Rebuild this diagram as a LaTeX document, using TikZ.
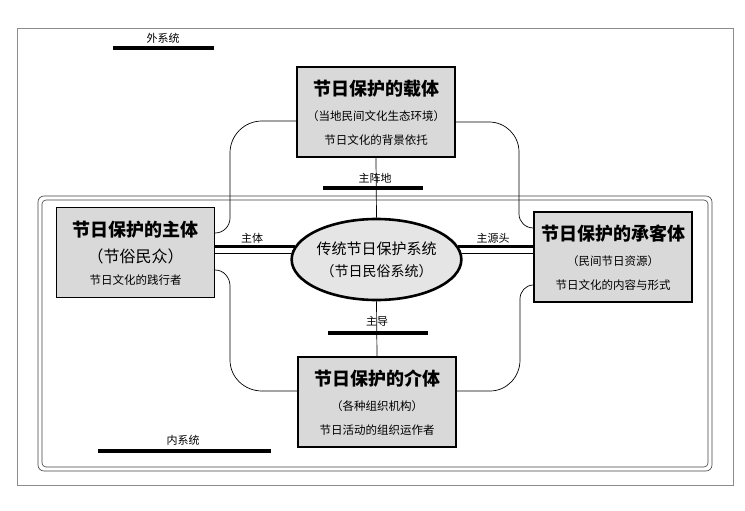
\documentclass[tikz,border=0pt]{standalone}
\usepackage{fontspec}
\setmainfont{Noto Sans CJK SC}
\usepackage{tikz}
\usetikzlibrary{shapes.geometric}
\usetikzlibrary{calc}
\tikzset{
    box/.style={
        draw, line width=1.3pt, fill=black!15,
        minimum width=158pt, minimum height=90pt, inner sep=0pt
    },
    core/.style={
        ellipse, draw, line width=2.6pt, fill=black!10, align=center,
        minimum width=161pt, minimum height=81pt, inner sep=0pt
    },
    link/.style={line width=0.7pt},
    bar/.style={line width=3.6pt},
    tag/.style={font=\fontsize{11}{11}\selectfont, inner sep=0pt}
}
\newcommand{\festbox}[7] {
	\node[box] (#1) at (#2,#3) {};
	\node[font=\fontsize{18}{18}\selectfont\bfseries, inner sep=0pt] (#1-t) at ($(#1)+(0,-23)$) {#4};
	\node[font=\fontsize{#7}{#7}\selectfont, inner sep=0pt] (#1-s) at ($(#1)+(0,4)$) {#5};
	\node[font=\fontsize{11.5}{11.5}\selectfont, inner sep=0pt] (#1-r) at ($(#1)+(0,28)$) {#6};
}
\begin{document}
\begin{tikzpicture}[x=1pt,y=-1pt]
		\useasboundingbox (0,0) rectangle (745,511);

		% frames
		\draw[black!45, line width=1pt] (17,29) rectangle (733,485);
		\draw[black!75, line width=0.6pt, rounded corners=6pt] (38,196) rectangle (712,471);
		\draw[black!75, line width=0.6pt, rounded corners=4pt] (42,200) rectangle (708,467);

		% outer / inner system tags
		\node[tag] (outer) at (163,38) {外系统};
		\draw[bar] (113,48) -- (214,48);
		\node[tag] (inner) at (183,440) {内系统};
		\draw[bar] (98,451) -- (271,451);

		% the four boxes
		\festbox{carrier}{376}{112}{节日保护的载体}{（当地民间文化生态环境）}{节日文化的背景依托}{11.5}
		\festbox{subject}{135.5}{252.5}{节日保护的主体}{（节俗民众）}{节日文化的践行者}{16}
		\festbox{object}{613}{257}{节日保护的承客体}{（民间节日资源）}{节日文化的内容与形式}{11.5}
		\festbox{medium}{377}{402}{节日保护的介体}{（各种组织机构）}{节日活动的组织运作者}{11.5}

		% centre
		\node[core, font=\fontsize{15}{22}\selectfont] (core) at (376.5,259.5)
			{传统节日保护系统\\{\fontsize{14}{22}\selectfont（节日民俗系统）}};

		% spokes
		\draw[link] (carrier.south) -- (core.north);
		\draw[link] (core.south) -- (medium.north);
		\draw[bar] (core.171) -- (core.171 -| subject.east);
		\draw[link] (core.176) -- (core.176 -| subject.east);
		\draw[bar] (core.9) -- (core.9 -| object.west);
		\draw[link] (core.4) -- (core.4 -| object.west);

		\node[tag] (base) at (375,178) {主阵地};
		\draw[bar] (323,188) -- (423,188);
		\node[tag] (lead) at (377,321) {主导};
		\draw[bar] (328,333) -- (428,333);
		\node[tag] (agent) at (252,238) {主体};
		\node[tag] (source) at (493,238) {主源头};

		% rounded links round the centre
		\draw[link] ($(carrier.west)+(0,9)$) -- (262,121) to[out=180,in=90] (230,153)
			-- (230,218) to[out=-90,in=0] ($(subject.east)+(0,-19.5)$);
		\draw[link] ($(carrier.east)+(0,10)$) -- (489,122) to[out=0,in=90] (519,152)
			-- (519,214) to[out=-90,in=180] ($(object.west)+(0,-29)$);
		\draw[link] ($(subject.east)+(0,17.5)$) to[out=0,in=90] (230,286)
			-- (230,360) to[out=-90,in=180] (262,391) -- ($(medium.west)+(0,-11)$);
		\draw[link] ($(object.west)+(0,28)$) to[out=180,in=90] (520,299)
			-- (520,360) to[out=-90,in=0] (490,391) -- ($(medium.east)+(0,-11)$);
	\end{tikzpicture}
\end{document}
